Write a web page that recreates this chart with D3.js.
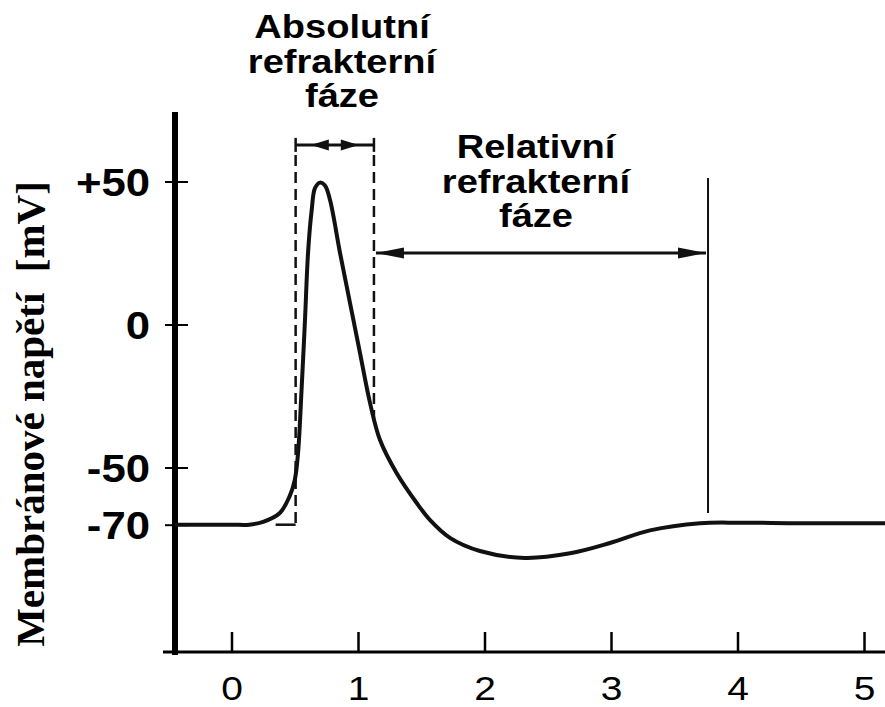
<!DOCTYPE html>
<html>
<head>
<meta charset="utf-8">
<script src="https://cdn.jsdelivr.net/npm/d3@7"></script>
<style>
  html, body { margin: 0; padding: 0; background: #fff; }
  svg { display: block; }
</style>
</head>
<body>
<svg id="chart" width="885" height="707"></svg>
<script>
// ---- data ----
const timeMs = [-0.447, 0.0, 0.14, 0.25, 0.38, 0.46, 0.50, 0.526, 0.555, 0.581, 0.605, 0.634, 0.66, 0.70, 0.739, 0.779, 0.858, 0.937, 1.016, 1.095, 1.174, 1.306, 1.464, 1.57, 1.727, 1.964, 2.32, 2.676, 2.992, 3.308, 3.704, 4.02, 4.494, 5.166];
const voltage = [-70, -70, -70, -69, -66, -60, -54.4, -45, -21.8, 1.6, 25, 40, 47.7, 49.6, 48.6, 43.5, 25, 7.5, -10, -27.4, -40.4, -52, -62.4, -68.4, -74.6, -79.2, -81.6, -80, -76.4, -72, -69.5, -69.3, -69.5, -69.5];

const xTickValues = [0, 1, 2, 3, 4, 5];
const xTickLabels = ["0", "1", "2", "3", "4", "5"];
const yTickValues = [50, 0, -50, -70];
const yTickLabels = ["+50", "0", "-50", "-70"];

const absolutePhase = [0.507, 1.126];      // start / end of absolute refractory phase (ms)
const relativePhase = [1.126, 3.767];      // start / end of relative refractory phase (ms)
const bracketLevel = [62.8, 25];           // mV level of the two arrows
const dashBottom = [-70, -33];             // where the dashed lines end (mV)
const relLineRange = [51.2, -65.9];        // vertical solid line extent (mV)

const absLabel = ["Absolutní", "refrakterní", "fáze"];
const relLabel = ["Relativní", "refrakterní", "fáze"];
const yAxisTitle = "Membránové napětí  [mV]";

// ---- layout ----
const svg = d3.select("#chart");
const x = d3.scaleLinear().domain([0, 5]).range([231.5, 864]);
const y = d3.scaleLinear().domain([-70, 50]).range([524.7, 181.5]);
const axisX = 175, axisTop = 112, axisBottomY = 652;

// ---- y axis ----
svg.append("line")
  .attr("x1", axisX).attr("x2", axisX)
  .attr("y1", axisTop).attr("y2", axisBottomY + 3)
  .attr("stroke", "#000").attr("stroke-width", 6);

const yAxis = svg.append("g")
  .attr("transform", `translate(${axisX},0)`)
  .call(d3.axisLeft(y).tickValues(yTickValues).tickSize(10).tickFormat((d, i) => yTickLabels[i]));
yAxis.select(".domain").remove();
yAxis.selectAll(".tick line").attr("x1", 13).attr("x2", -10).attr("stroke", "#000").attr("stroke-width", 2);
yAxis.selectAll(".tick text").remove();
yAxis.selectAll(".tick").append("text")
  .attr("transform", "translate(-25,0) scale(1.15,1)")
  .attr("text-anchor", "end")
  .attr("dy", "0.37em")
  .attr("fill", "#000")
  .style("font-family", "'Liberation Sans', Arial, sans-serif")
  .style("font-weight", "bold")
  .style("font-size", "38px")
  .text((d, i) => yTickLabels[i]);

// ---- x axis ----
svg.append("line")
  .attr("x1", 163).attr("x2", 885)
  .attr("y1", axisBottomY).attr("y2", axisBottomY)
  .attr("stroke", "#000").attr("stroke-width", 3);

const xAxis = svg.append("g")
  .attr("transform", `translate(0,${axisBottomY})`)
  .call(d3.axisBottom(x).tickValues(xTickValues).tickSize(-20).tickFormat((d, i) => xTickLabels[i]));
xAxis.select(".domain").remove();
xAxis.selectAll(".tick line").attr("stroke", "#000").attr("stroke-width", 2.5);
xAxis.selectAll(".tick text").remove();
xAxis.selectAll(".tick").append("text")
  .attr("transform", "translate(0,47.5) scale(1.18,1)")
  .attr("text-anchor", "middle")
  .attr("fill", "#000")
  .style("font-family", "'Liberation Sans', Arial, sans-serif")
  .style("font-size", "33px")
  .text((d, i) => xTickLabels[i]);

// ---- y axis title ----
svg.append("text")
  .attr("transform", "translate(44,414) rotate(-90)")
  .attr("text-anchor", "middle")
  .attr("xml:space", "preserve")
  .style("white-space", "pre")
  .style("font-family", "'Liberation Serif', 'Times New Roman', serif")
  .style("font-weight", "bold")
  .style("font-size", "41px")
  .attr("fill", "#000")
  .text(yAxisTitle);

// ---- curve ----
const pts = timeMs.map((t, i) => [t, voltage[i]]);
const line = d3.line().x(d => x(d[0])).y(d => y(d[1])).curve(d3.curveCatmullRom.alpha(0.5));
svg.append("path")
  .attr("d", line(pts))
  .attr("fill", "none")
  .attr("stroke", "#111")
  .attr("stroke-width", 4)
  .attr("stroke-linejoin", "round");

// ---- dashed lines ----
const dashStyle = sel => sel.attr("stroke", "#111").attr("stroke-width", 2.5).attr("stroke-dasharray", "11,6");
dashStyle(svg.append("line")
  .attr("x1", x(absolutePhase[0])).attr("x2", x(absolutePhase[0]))
  .attr("y1", y(bracketLevel[0]) + 10).attr("y2", y(dashBottom[0])));
dashStyle(svg.append("line")
  .attr("x1", x(absolutePhase[1])).attr("x2", x(absolutePhase[1]))
  .attr("y1", y(bracketLevel[0]) + 10).attr("y2", y(dashBottom[1])));
svg.append("line")
  .attr("x1", x(absolutePhase[0]) - 20).attr("x2", x(absolutePhase[0]))
  .attr("y1", y(dashBottom[0])).attr("y2", y(dashBottom[0]))
  .attr("stroke", "#111").attr("stroke-width", 2.5);

// ---- arrowheads helper ----
function arrowHead(tipX, tipY, dir, len, half) {
  // dir = -1 points left, +1 points right
  const bx = tipX - dir * len;
  svg.append("path")
    .attr("d", `M${tipX},${tipY} L${bx},${tipY - half} L${bx},${tipY + half} Z`)
    .attr("fill", "#111");
}

// absolute bracket
const ax0 = x(absolutePhase[0]), ax1 = x(absolutePhase[1]), ay = y(bracketLevel[0]);
svg.append("line").attr("x1", ax0).attr("x2", ax1).attr("y1", ay).attr("y2", ay)
  .attr("stroke", "#111").attr("stroke-width", 3);
[ax0, ax1].forEach(xx => svg.append("line").attr("x1", xx).attr("x2", xx)
  .attr("y1", ay - 7).attr("y2", ay + 7).attr("stroke", "#111").attr("stroke-width", 2.5));
const amid = (ax0 + ax1) / 2;
arrowHead(amid - 24, ay, -1, 18, 5.5);
arrowHead(amid + 24, ay, 1, 18, 5.5);

// relative arrow
const rx0 = x(relativePhase[0]) + 2, rx1 = x(relativePhase[1]) - 2, ry = y(bracketLevel[1]);
svg.append("line").attr("x1", rx0).attr("x2", rx1).attr("y1", ry).attr("y2", ry)
  .attr("stroke", "#111").attr("stroke-width", 3);
arrowHead(rx0, ry, -1, 28, 5.5);
arrowHead(rx1, ry, 1, 28, 5.5);

// vertical solid line at end of relative phase
svg.append("line")
  .attr("x1", x(relativePhase[1])).attr("x2", x(relativePhase[1]))
  .attr("y1", y(relLineRange[0])).attr("y2", y(relLineRange[1]))
  .attr("stroke", "#111").attr("stroke-width", 2);

// ---- phase labels ----
function label(lines, cx, firstBaseline) {
  lines.forEach((s, i) => {
    svg.append("text")
      .attr("transform", `translate(${cx},${firstBaseline + i * 34.5}) scale(1.12,1)`)
      .attr("text-anchor", "middle")
      .style("font-family", "'Liberation Sans', Arial, sans-serif")
      .style("font-weight", "bold")
      .style("font-size", "34px")
      .attr("fill", "#000")
      .text(s);
  });
}
label(absLabel, 342, 38);
label(relLabel, 536, 158);
</script>
</body>
</html>
